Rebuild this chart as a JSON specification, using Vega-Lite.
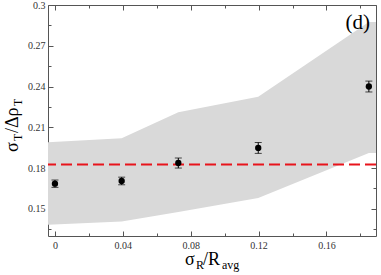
{
  "$schema": "https://vega.github.io/schema/vega-lite/v6.json",
  "width": 328,
  "height": 231,
  "autosize": {"type": "none"},
  "padding": {"left": 48, "top": 5, "right": 5, "bottom": 39},
  "background": "white",
  "config": {
    "view": {"stroke": null},
    "axis": {
      "labelFont": "Liberation Serif",
      "labelFontSize": 10,
      "labelColor": "#333333",
      "domainColor": "#555555",
      "tickColor": "#555555",
      "grid": false,
      "title": null
    }
  },
  "datasets": {
    "band": [
      {"x": -0.0041, "lo": 0.1383, "hi": 0.1990},
      {"x": 0.0393, "lo": 0.1407, "hi": 0.2019},
      {"x": 0.0727, "lo": 0.1476, "hi": 0.2210},
      {"x": 0.1198, "lo": 0.1580, "hi": 0.2324},
      {"x": 0.1850, "lo": 0.1910, "hi": 0.2875},
      {"x": 0.1892, "lo": 0.1910, "hi": 0.2875}
    ],
    "pts": [
      {"x": 0.0, "y": 0.1685, "lo": 0.1658, "hi": 0.1712},
      {"x": 0.0393, "y": 0.1705, "lo": 0.1677, "hi": 0.1733},
      {"x": 0.0727, "y": 0.1837, "lo": 0.1800, "hi": 0.1874},
      {"x": 0.1198, "y": 0.1948, "lo": 0.1908, "hi": 0.1988},
      {"x": 0.1850, "y": 0.2400, "lo": 0.2360, "hi": 0.2440}
    ]
  },
  "resolve": {"axis": {"x": "independent", "y": "independent"}},
  "layer": [
    {
      "data": {"name": "band"},
      "mark": {"type": "area", "color": "#d9d9d9", "opacity": 1},
      "encoding": {
        "x": {"field": "x", "type": "quantitative",
          "scale": {"domain": [-0.0041, 0.1892], "nice": false, "zero": false},
          "axis": {"orient": "bottom",
            "values": [0, 0.02, 0.04, 0.06, 0.08, 0.1, 0.12, 0.14, 0.16, 0.18],
            "labelExpr": "abs(datum.value*25 - round(datum.value*25)) < 0.001 ? (datum.value == 0 ? '0' : format(datum.value, '.2f')) : ''",
            "tickSize": {"condition": {"test": "abs(datum.value*25 - round(datum.value*25)) < 0.001", "value": -5}, "value": -3},
            "labelPadding": 9}},
        "y": {"field": "lo", "type": "quantitative",
          "scale": {"domain": [0.13, 0.3], "nice": false, "zero": false},
          "axis": {"orient": "left",
            "values": [0.135, 0.15, 0.165, 0.18, 0.195, 0.21, 0.225, 0.24, 0.255, 0.27, 0.285, 0.3],
            "labelExpr": "abs(datum.value/0.03 - round(datum.value/0.03)) < 0.001 ? format(datum.value, '.2~f') : ''",
            "tickSize": {"condition": {"test": "abs(datum.value/0.03 - round(datum.value/0.03)) < 0.001", "value": -5}, "value": -3},
            "labelPadding": 8}},
        "y2": {"field": "hi"}
      }
    },
    {
      "data": {"values": [{}]},
      "mark": {"type": "rule", "color": "#e8141c", "strokeWidth": 2, "strokeDash": [11, 5]},
      "encoding": {"y": {"datum": 0.1827, "type": "quantitative", "axis": null}}
    },
    {
      "data": {"name": "pts"},
      "mark": {"type": "rule", "color": "black", "strokeWidth": 1},
      "encoding": {
        "x": {"field": "x", "type": "quantitative", "axis": null},
        "y": {"field": "lo", "type": "quantitative", "axis": null},
        "y2": {"field": "hi"}
      }
    },
    {
      "data": {"name": "pts"},
      "mark": {"type": "tick", "color": "black", "orient": "horizontal", "size": 7, "thickness": 1},
      "encoding": {
        "x": {"field": "x", "type": "quantitative", "axis": null},
        "y": {"field": "lo", "type": "quantitative", "axis": null}
      }
    },
    {
      "data": {"name": "pts"},
      "mark": {"type": "tick", "color": "black", "orient": "horizontal", "size": 7, "thickness": 1},
      "encoding": {
        "x": {"field": "x", "type": "quantitative", "axis": null},
        "y": {"field": "hi", "type": "quantitative", "axis": null}
      }
    },
    {
      "data": {"name": "pts"},
      "mark": {"type": "circle", "color": "black", "opacity": 1, "size": 40},
      "encoding": {
        "x": {"field": "x", "type": "quantitative",
          "axis": {"orient": "top", "labels": false,
            "values": [0, 0.02, 0.04, 0.06, 0.08, 0.1, 0.12, 0.14, 0.16, 0.18],
            "tickSize": {"condition": {"test": "abs(datum.value*25 - round(datum.value*25)) < 0.001", "value": -5}, "value": -3}}},
        "y": {"field": "y", "type": "quantitative",
          "axis": {"orient": "right", "labels": false,
            "values": [0.135, 0.15, 0.165, 0.18, 0.195, 0.21, 0.225, 0.24, 0.255, 0.27, 0.285, 0.3],
            "tickSize": {"condition": {"test": "abs(datum.value/0.03 - round(datum.value/0.03)) < 0.001", "value": -5}, "value": -3}}}
      }
    },
    {
      "data": {"values": [{}]},
      "mark": {"type": "text", "text": "(d)", "font": "Liberation Serif", "fontSize": 21, "align": "right", "baseline": "alphabetic", "color": "black"},
      "encoding": {
        "x": {"datum": 0.1856, "type": "quantitative", "axis": null},
        "y": {"datum": 0.2823, "type": "quantitative", "axis": null}
      }
    },
    {
      "data": {"values": [{}]},
      "layer": [
        {"mark": {"type": "text", "text": "σ", "font": "Liberation Serif", "fontSize": 18, "align": "left", "baseline": "alphabetic", "color": "black", "dx": 0, "dy": 0}},
        {"mark": {"type": "text", "text": "R", "font": "Liberation Serif", "fontSize": 12, "align": "left", "baseline": "alphabetic", "color": "black", "dx": 11, "dy": 4}},
        {"mark": {"type": "text", "text": "/R", "font": "Liberation Serif", "fontSize": 18, "align": "left", "baseline": "alphabetic", "color": "black", "dx": 18, "dy": 0}},
        {"mark": {"type": "text", "text": "avg", "font": "Liberation Serif", "fontSize": 12, "align": "left", "baseline": "alphabetic", "color": "black", "dx": 37, "dy": 4}}
      ],
      "encoding": {
        "x": {"datum": 0.0766, "type": "quantitative", "axis": null},
        "y": {"datum": 0.1087, "type": "quantitative", "axis": null}
      }
    },
    {
      "data": {"values": [{}]},
      "layer": [
        {"mark": {"type": "text", "text": "σ", "font": "Liberation Serif", "fontSize": 18, "angle": 270, "align": "left", "baseline": "alphabetic", "color": "black", "dx": 0, "dy": 0}},
        {"mark": {"type": "text", "text": "T", "font": "Liberation Serif", "fontSize": 12, "angle": 270, "align": "left", "baseline": "alphabetic", "color": "black", "dx": 11, "dy": 4}},
        {"mark": {"type": "text", "text": "/Δρ", "font": "Liberation Serif", "fontSize": 18, "angle": 270, "align": "left", "baseline": "alphabetic", "color": "black", "dx": 19, "dy": 0}},
        {"mark": {"type": "text", "text": "T", "font": "Liberation Serif", "fontSize": 12, "angle": 270, "align": "left", "baseline": "alphabetic", "color": "black", "dx": 46, "dy": 4}}
      ],
      "encoding": {
        "x": {"datum": -0.0218, "type": "quantitative", "axis": null},
        "y": {"datum": 0.1918, "type": "quantitative", "axis": null}
      }
    }
  ]
}
